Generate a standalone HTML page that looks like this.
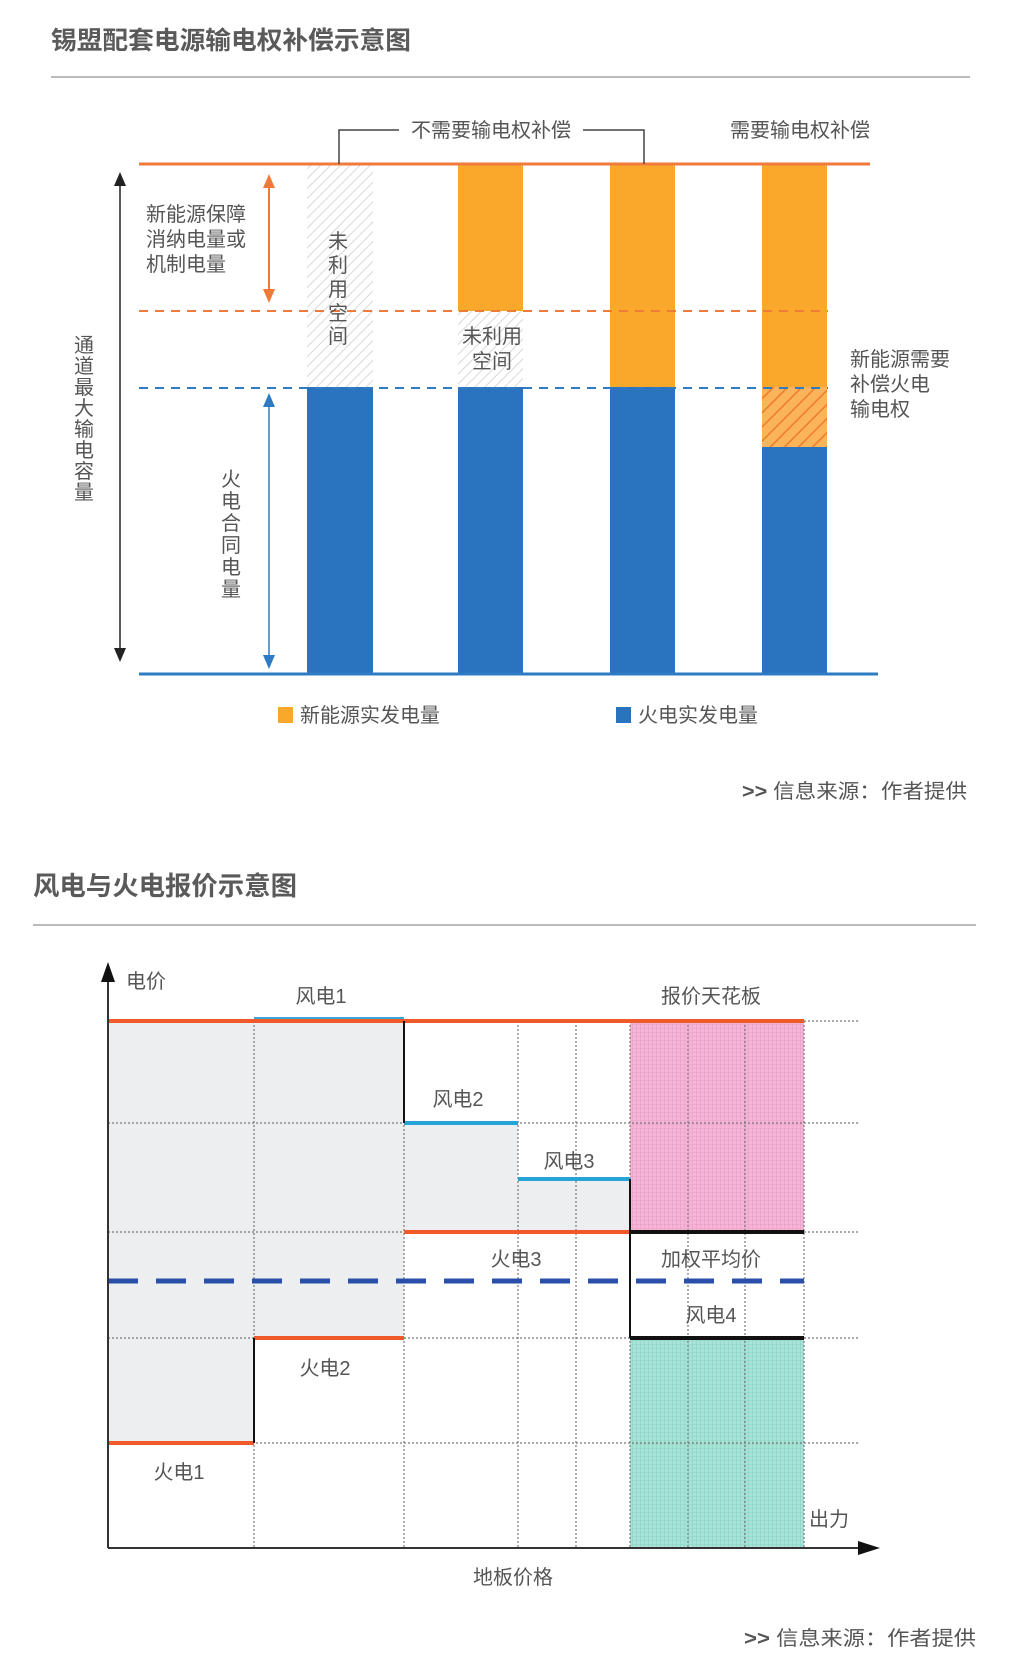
<!DOCTYPE html>
<html><head><meta charset="utf-8"><style>
html,body{margin:0;padding:0;background:#fff}
svg{display:block}
text{font-family:"Liberation Sans","Noto Sans CJK SC",sans-serif;fill:#555}
</style></head><body>
<svg width="1018" height="1674" viewBox="0 0 1018 1674" xmlns="http://www.w3.org/2000/svg">
<defs>
<pattern id="gh" width="7" height="7" patternUnits="userSpaceOnUse" patternTransform="rotate(45)">
<rect width="7" height="7" fill="#fff"/><line x1="0" y1="0" x2="0" y2="7" stroke="#d8d8d8" stroke-width="2"/></pattern>
<pattern id="oh" width="10" height="10" patternUnits="userSpaceOnUse" patternTransform="rotate(45)">
<rect width="10" height="10" fill="#fbb45a"/><line x1="0" y1="0" x2="0" y2="10" stroke="#f07a2a" stroke-width="3"/></pattern>
<pattern id="pk" width="4" height="4" patternUnits="userSpaceOnUse">
<rect width="4" height="4" fill="#f4b5d6"/><path d="M0 0H4M0 0V4" stroke="#e48ab8" stroke-width="0.6"/></pattern>
<pattern id="tl" width="4" height="4" patternUnits="userSpaceOnUse">
<rect width="4" height="4" fill="#a9e2d6"/><path d="M0 0H4M0 0V4" stroke="#6cc8b8" stroke-width="0.6"/></pattern>
</defs>

<!-- Chart 1 -->
<text x="51" y="49" font-size="25" font-weight="bold" textLength="360" lengthAdjust="spacingAndGlyphs" style="fill:#5a5a5a">锡盟配套电源输电权补偿示意图</text>
<line x1="51" y1="77" x2="970" y2="77" stroke="#bbb" stroke-width="2"/>

<rect x="307" y="165" width="66" height="222" fill="url(#gh)"/>
<rect x="458" y="165" width="65" height="146" fill="#f9a82c"/>
<rect x="458" y="311" width="65" height="76" fill="url(#gh)"/>
<rect x="610" y="165" width="65" height="222" fill="#f9a82c"/>
<rect x="762" y="165" width="65" height="222" fill="#f9a82c"/>
<rect x="762" y="387" width="65" height="60" fill="url(#oh)"/>
<rect x="307" y="387" width="66" height="287" fill="#2a74bf"/>
<rect x="458" y="387" width="65" height="287" fill="#2a74bf"/>
<rect x="610" y="387" width="65" height="287" fill="#2a74bf"/>
<rect x="762" y="447" width="65" height="227" fill="#2a74bf"/>

<line x1="139" y1="164" x2="870" y2="164" stroke="#f07a3a" stroke-width="3"/>
<line x1="139" y1="674" x2="878" y2="674" stroke="#2e7bc4" stroke-width="3"/>
<line x1="139" y1="311" x2="828" y2="311" stroke="#f07a3a" stroke-width="2" stroke-dasharray="9,7"/>
<line x1="139" y1="388" x2="828" y2="388" stroke="#2e7bc4" stroke-width="2" stroke-dasharray="9,7"/>

<path d="M339 164V130H399M583 130H644V164" fill="none" stroke="#444" stroke-width="1.5"/>
<text x="491" y="137" font-size="20" text-anchor="middle">不需要输电权补偿</text>
<text x="800" y="137" font-size="20" text-anchor="middle">需要输电权补偿</text>

<line x1="120" y1="182" x2="120" y2="652" stroke="#222" stroke-width="1.5"/>
<path d="M114 186L120 172L126 186Z M114 648L120 662L126 648Z" fill="#222"/>
<line x1="269" y1="180" x2="269" y2="296" stroke="#f07a3a" stroke-width="2"/>
<path d="M263 188L269 174L275 188Z M263 289L269 303L275 289Z" fill="#f07a3a"/>
<line x1="269" y1="400" x2="269" y2="662" stroke="#2e7bc4" stroke-width="1.5"/>
<path d="M263 407L269 393L275 407Z M263 655L269 669L275 655Z" fill="#2e7bc4"/>

<text x="146" y="221" font-size="20">新能源保障</text>
<text x="146" y="246" font-size="20">消纳电量或</text>
<text x="146" y="271" font-size="20">机制电量</text>
<g font-size="20" text-anchor="middle">
<text x="338" y="248">未</text><text x="338" y="272">利</text><text x="338" y="296">用</text><text x="338" y="320">空</text><text x="338" y="343">间</text>
<text x="84" y="352">通</text><text x="84" y="373">道</text><text x="84" y="394">最</text><text x="84" y="415">大</text><text x="84" y="436">输</text><text x="84" y="457">电</text><text x="84" y="478">容</text><text x="84" y="499">量</text>
<text x="231" y="486">火</text><text x="231" y="508">电</text><text x="231" y="530">合</text><text x="231" y="552">同</text><text x="231" y="574">电</text><text x="231" y="596">量</text>
<text x="492" y="343">未利用</text><text x="492" y="368">空间</text>
</g>
<text x="850" y="366" font-size="20">新能源需要</text>
<text x="850" y="391" font-size="20">补偿火电</text>
<text x="850" y="416" font-size="20">输电权</text>

<rect x="278" y="707" width="15" height="16" fill="#f9a82c"/>
<text x="300" y="722" font-size="20">新能源实发电量</text>
<rect x="616" y="707" width="15" height="16" fill="#2a74bf"/>
<text x="638" y="722" font-size="20">火电实发电量</text>
<text x="742" y="798" font-size="20" textLength="225" lengthAdjust="spacingAndGlyphs"><tspan font-weight="bold">&gt;&gt;</tspan> 信息来源：作者提供</text>

<!-- Chart 2 -->
<text x="33" y="895" font-size="26" font-weight="bold" textLength="264" lengthAdjust="spacingAndGlyphs" style="fill:#5a5a5a">风电与火电报价示意图</text>
<line x1="33" y1="925" x2="976" y2="925" stroke="#bbb" stroke-width="2"/>

<path d="M108 1021H404V1123H518V1179H630V1232H404V1338H254V1443H108Z" fill="#eceeef"/>
<rect x="630" y="1021" width="174" height="211" fill="url(#pk)"/>
<rect x="630" y="1338" width="174" height="210" fill="url(#tl)"/>

<g stroke="#777" stroke-width="1.2" stroke-dasharray="2,2" fill="none">
<path d="M254 1021V1548M404 1021V1548M518 1021V1548M576 1021V1548M630 1021V1548M688 1021V1548M745 1021V1548M804 1021V1548"/>
<path d="M108 1123H858M108 1232H858M108 1338H858M108 1443H858M804 1021H858"/>
</g>

<line x1="108" y1="1281" x2="804" y2="1281" stroke="#2a4fa8" stroke-width="5" stroke-dasharray="30,18"/>

<line x1="108" y1="1021" x2="804" y2="1021" stroke="#f05a2a" stroke-width="4"/>
<line x1="254" y1="1018" x2="404" y2="1018" stroke="#3aa6d8" stroke-width="2"/>
<line x1="404" y1="1123" x2="518" y2="1123" stroke="#26a4d6" stroke-width="4"/>
<line x1="518" y1="1179" x2="630" y2="1179" stroke="#26a4d6" stroke-width="4"/>
<line x1="404" y1="1232" x2="630" y2="1232" stroke="#f05a2a" stroke-width="4"/>
<line x1="254" y1="1338" x2="404" y2="1338" stroke="#f05a2a" stroke-width="4"/>
<line x1="108" y1="1443" x2="254" y2="1443" stroke="#f05a2a" stroke-width="4"/>
<line x1="630" y1="1232" x2="804" y2="1232" stroke="#111" stroke-width="4"/>
<line x1="630" y1="1338" x2="804" y2="1338" stroke="#111" stroke-width="4"/>
<path d="M404 1021V1123M630 1179V1338M254 1338V1443" stroke="#111" stroke-width="2" fill="none"/>

<line x1="108" y1="975" x2="108" y2="1548" stroke="#333" stroke-width="2"/>
<path d="M101 982L108 962L115 982Z" fill="#111"/>
<line x1="108" y1="1548" x2="860" y2="1548" stroke="#333" stroke-width="2"/>
<path d="M858 1541L880 1548L858 1555Z" fill="#111"/>

<g font-size="20" text-anchor="middle">
<text x="146" y="988">电价</text>
<text x="321" y="1003">风电1</text>
<text x="711" y="1003">报价天花板</text>
<text x="458" y="1106">风电2</text>
<text x="569" y="1168">风电3</text>
<text x="516" y="1266">火电3</text>
<text x="711" y="1266">加权平均价</text>
<text x="711" y="1322">风电4</text>
<text x="325" y="1375">火电2</text>
<text x="179" y="1479">火电1</text>
<text x="829" y="1526">出力</text>
<text x="513" y="1584">地板价格</text>
</g>
<text x="744" y="1645" font-size="20" textLength="232" lengthAdjust="spacingAndGlyphs"><tspan font-weight="bold">&gt;&gt;</tspan> 信息来源：作者提供</text>
</svg>
</body></html>
